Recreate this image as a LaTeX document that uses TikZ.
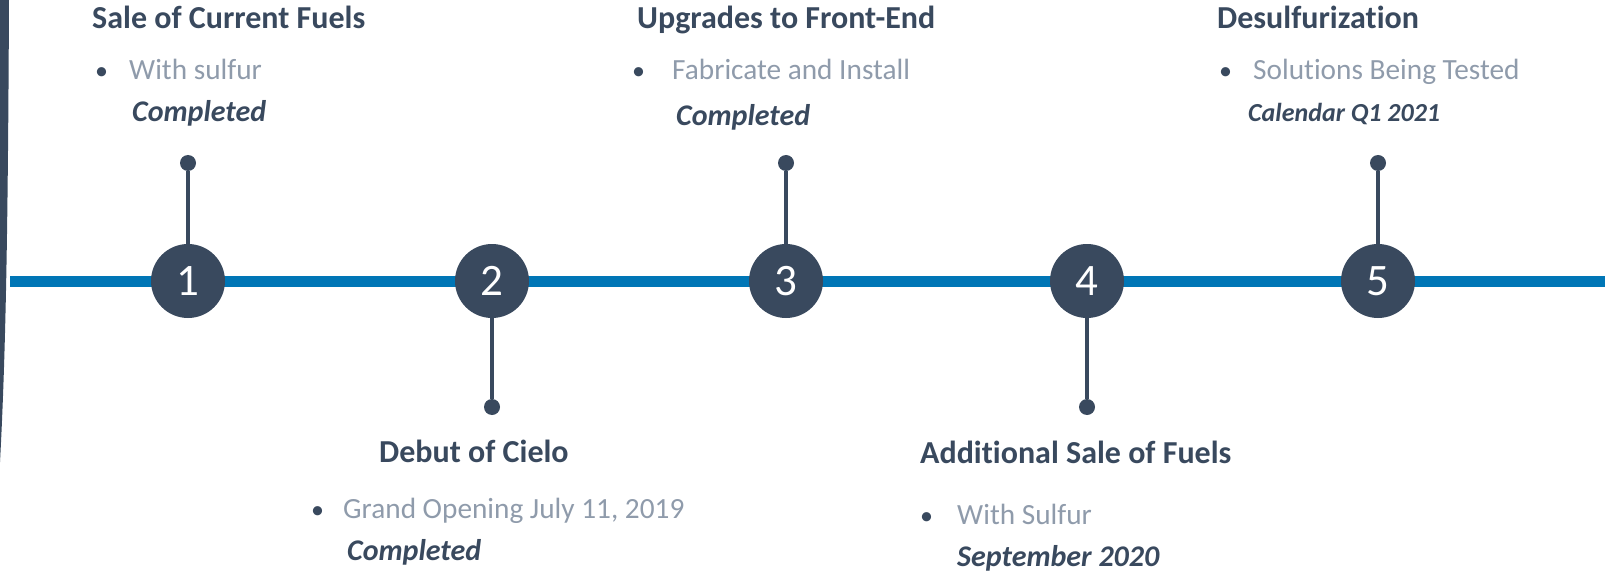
\documentclass[tikz,border=0pt]{standalone}
\usepackage{fontspec}
\setmainfont{Carlito}[Ligatures=NoCommon]
\definecolor{navy}{RGB}{57,73,94}
\definecolor{lineblue}{RGB}{0,118,182}
\definecolor{softgrey}{RGB}{143,155,171}

\begin{document}
\begin{tikzpicture}[x=1pt,y=-1pt,
    stepcircle/.style={circle,fill=navy,text=white,minimum size=74pt,inner sep=0pt,font=\fontsize{45}{48}\selectfont},
    stemdot/.style={circle,fill=navy,minimum size=16pt,inner sep=0pt},
    stem/.style={navy,line width=4pt},
    txt/.style={anchor=base west,inner sep=0pt},
    headline/.style={txt,text=navy,font=\fontsize{32}{36}\selectfont\bfseries},
    bulletmark/.style={txt,text=navy,font=\fontsize{26}{28}\selectfont},
    detail/.style={txt,text=softgrey,font=\fontsize{29.3}{33}\selectfont},
    status/.style={txt,text=navy,font=\fontsize{30}{34}\selectfont\bfseries\itshape}]
            \useasboundingbox (0,0) rectangle (1605,572);
            \fill[navy] (0,0) -- (9,0) .. controls (8,220) and (6,350) .. (0,462) -- cycle;

            \coordinate (lstart) at (10,281);
            \coordinate (lend) at (1605,281);
            \draw[lineblue,line width=11pt] (lstart) -- (lend);

            \node[stemdot] (d1) at (188,163) {};
            \node[stemdot] (d2) at (492,407) {};
            \node[stemdot] (d3) at (786,163) {};
            \node[stemdot] (d4) at (1087,407) {};
            \node[stemdot] (d5) at (1378,163) {};

            \node[stepcircle] (c1) at (188,281) {1};
            \node[stepcircle] (c2) at (492,281) {2};
            \node[stepcircle] (c3) at (786,281) {3};
            \node[stepcircle] (c4) at (1087,281) {4};
            \node[stepcircle] (c5) at (1378,281) {5};

            \foreach \i in {1,...,5}
                \draw[stem] (d\i) -- (c\i);

            \node[headline] (h1) at (92,29) {Sale of Current Fuels};
            \node[bulletmark] (b1) at (95,80) {•};
            \node[detail] (t1) at (129,80) {With sulfur};
            \node[status] (s1) at (132,122) {Completed};

            \node[headline] (h2) at (379,462) {Debut of Cielo};
            \node[bulletmark] (b2) at (311,518) {•};
            \node[detail] (t2) at (343,518) {Grand Opening July 11, 2019};
            \node[status] (s2) at (347,560) {Completed};

            \node[headline] (h3) at (637,29) {Upgrades to Front-End};
            \node[bulletmark] (b3) at (632,80) {•};
            \node[detail] (t3) at (672,80) {Fabricate and Install};
            \node[status] (s3) at (676,126) {Completed};

            \node[headline] (h4) at (920,463) {Additional Sale of Fuels};
            \node[bulletmark] (b4) at (920,524) {•};
            \node[detail] (t4) at (957,524) {With Sulfur};
            \node[status] (s4) at (957,566) {September 2020};

            \node[headline] (h5) at (1217,29) {Desulfurization};
            \node[bulletmark] (b5) at (1219,80) {•};
            \node[detail] (t5) at (1253,80) {Solutions Being Tested};
            \node[status,font=\fontsize{26}{30}\selectfont\bfseries\itshape] (s5) at (1248,122) {Calendar Q1 2021};
        \end{tikzpicture}
\end{document}
